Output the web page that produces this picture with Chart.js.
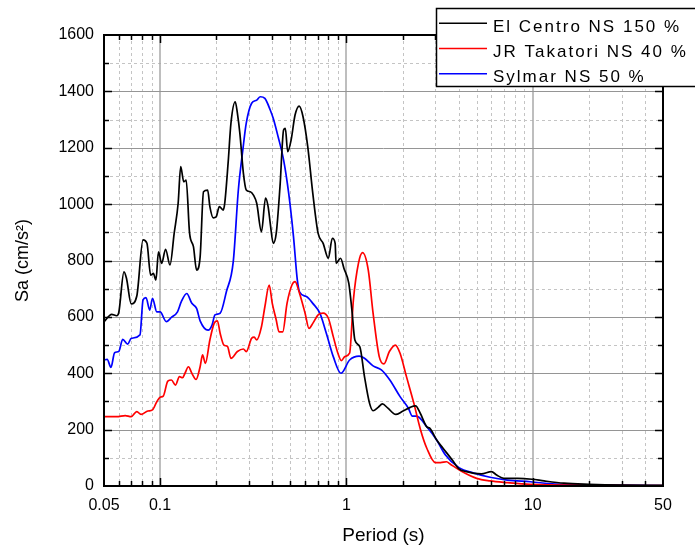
<!DOCTYPE html>
<html lang="en">
<head>
    <meta charset="UTF-8">
    <title>Acceleration Response Spectra</title>
    <style>
        html, body {
            margin: 0;
            padding: 0;
            background: #ffffff;
        }
        #wrap {
            width: 695px;
            height: 547px;
        }
    </style>
    <script src="https://cdn.jsdelivr.net/npm/chart.js"></script>
</head>
<body>
    <div id="wrap">
        <canvas id="spectrumChart" width="695" height="547"></canvas>
    </div>
    <script>
        // El Centro NS 150 % : period (s) / Sa (cm/s2)
        const elCentroT = [0.05, 0.055, 0.0585, 0.06, 0.064, 0.066, 0.07, 0.075, 0.081, 0.085, 0.089, 0.092, 0.095, 0.098,
            0.102, 0.107, 0.113, 0.119, 0.125, 0.129, 0.134, 0.138, 0.144, 0.151, 0.157, 0.164, 0.171, 0.18, 0.185, 0.193,
            0.2, 0.208, 0.218, 0.222, 0.232, 0.24, 0.253, 0.26, 0.268, 0.28, 0.29, 0.305, 0.317, 0.33, 0.35, 0.368, 0.38,
            0.39, 0.405, 0.42, 0.44, 0.46, 0.47, 0.484, 0.505, 0.53, 0.558, 0.585, 0.62, 0.66, 0.705, 0.75, 0.8, 0.84,
            0.87, 0.88, 0.93, 0.97, 1.03, 1.07, 1.11, 1.18, 1.25, 1.33, 1.39, 1.48, 1.56, 1.67, 1.84, 1.99, 2.2, 2.35,
            2.49, 2.7, 2.8, 3.05, 3.3, 3.7, 4.0, 4.4, 5.3, 6.0, 6.4, 7.0, 8.3, 9.9, 11.5, 14.7, 20, 30, 50];
        const elCentroSa = [583, 609, 604, 615, 760, 737, 646, 674, 873, 861, 748, 754, 731, 831,
            790, 840, 784, 896, 1003, 1133, 1079, 1085, 896, 849, 766, 813, 1044, 1050, 991, 951,
            955, 991, 979, 1000, 1150, 1287, 1363, 1322, 1251, 1109, 1050, 1044, 1032, 1003, 902, 1021, 991,
            932, 861, 896, 1062, 1263, 1269, 1186, 1228, 1316, 1348, 1310, 1204, 1038, 896, 861, 808, 879,
            861, 790, 808, 772, 719, 624, 518, 494, 388, 294, 267, 279, 291, 276, 254, 264, 279, 284,
            258, 210, 205, 163, 134, 92, 62, 51, 43, 51, 39, 27, 27, 24, 18, 10, 6, 3, 2];

        // JR Takatori NS 40 %
        const takatoriT = [0.05, 0.0585, 0.065, 0.07, 0.075, 0.079, 0.086, 0.091, 0.096, 0.1, 0.104, 0.11, 0.115, 0.121,
            0.127, 0.132, 0.136, 0.142, 0.148, 0.156, 0.164, 0.169, 0.175, 0.185, 0.195, 0.203, 0.21, 0.22, 0.23, 0.24,
            0.26, 0.28, 0.29, 0.31, 0.32, 0.33, 0.35, 0.365, 0.385, 0.4, 0.42, 0.435, 0.455, 0.48, 0.51, 0.53, 0.56,
            0.6, 0.63, 0.66, 0.705, 0.75, 0.8, 0.85, 0.9, 0.94, 0.98, 1.04, 1.09, 1.16, 1.22, 1.31, 1.39, 1.5, 1.59,
            1.7, 1.83, 1.94, 2.1, 2.3, 2.5, 2.7, 3.0, 3.2, 3.45, 3.6, 4.1, 5.0, 5.9, 7.3, 9.7, 20, 50];
        const takatoriSa = [246, 246, 250, 246, 264, 254, 266, 270, 299, 315, 319, 372, 376, 358,
            388, 384, 400, 423, 400, 378, 423, 465, 435, 518, 577, 586, 542, 500, 495, 453,
            477, 486, 477, 524, 528, 518, 565, 636, 713, 648, 589, 547, 547, 648, 713, 725, 684,
            613, 559, 577, 607, 613, 595, 530, 471, 445, 459, 471, 660, 790, 828, 766, 613, 459, 433,
            477, 500, 471, 388, 294, 199, 134, 83, 83, 86, 78, 54, 27, 18, 12, 6, 3, 1];

        // Sylmar NS 50 %
        const sylmarT = [0.05, 0.052, 0.0545, 0.057, 0.06, 0.063, 0.067, 0.07, 0.078, 0.081, 0.084, 0.088, 0.091, 0.096,
            0.1, 0.108, 0.115, 0.124, 0.13, 0.139, 0.148, 0.157, 0.164, 0.181, 0.19, 0.197, 0.21, 0.227, 0.247, 0.263,
            0.278, 0.29, 0.31, 0.33, 0.345, 0.365, 0.39, 0.405, 0.43, 0.46, 0.49, 0.52, 0.545, 0.56, 0.61, 0.66, 0.72,
            0.78, 0.85, 0.935, 1.04, 1.17, 1.25, 1.39, 1.54, 1.71, 1.94, 2.15, 2.26, 2.38, 2.7, 3.05, 3.4, 4.0, 4.9,
            5.9, 7.3, 9.7, 13.2, 20, 50];
        const sylmarSa = [447, 449, 421, 473, 477, 520, 503, 524, 536, 660, 668, 624, 666, 618,
            618, 583, 598, 618, 654, 683, 648, 630, 586, 553, 571, 607, 613, 690, 796, 1050,
            1192, 1287, 1358, 1369, 1381, 1375, 1334, 1304, 1239, 1157, 1038, 884, 731, 689, 672, 648, 613,
            542, 459, 400, 447, 461, 453, 426, 412, 376, 317, 276, 248, 248, 210, 163, 110, 66, 45,
            31, 21, 15, 7, 4, 1];

        // axis ticks
        const xTickLabels = [0.05, 0.1, 1, 10, 50];
        const xMajorTicks = [0.1, 1, 10];
        const xMinorTicks = [0.06, 0.07, 0.08, 0.09, 0.2, 0.3, 0.4, 0.5, 0.6, 0.7, 0.8, 0.9,
            2, 3, 4, 5, 6, 7, 8, 9, 20, 30, 40];
        const yMajorTicks = [200, 400, 600, 800, 1000, 1200, 1400];
        const yMinorTicks = [100, 300, 500, 700, 900, 1100, 1300, 1500];

        const fontFamily = "'Liberation Sans', Arial, sans-serif";

        function toPoints(periods, values) {
            return periods.map((t, i) => ({ x: t, y: values[i] }));
        }

        function strokeLine(ctx, x1, y1, x2, y2) {
            ctx.beginPath();
            ctx.moveTo(x1, y1);
            ctx.lineTo(x2, y2);
            ctx.stroke();
        }

        const frameAndGrid = {
            id: 'frameAndGrid',
            beforeDatasetsDraw(chart) {
                const { ctx, chartArea: a, scales: { x, y } } = chart;
                ctx.save();
                ctx.lineWidth = 1;

                // minor grid, dashed
                ctx.setLineDash([3, 3]);
                ctx.strokeStyle = '#c4c4c4';
                xMinorTicks.forEach(v => {
                    const px = Math.round(x.getPixelForValue(v)) + 0.5;
                    strokeLine(ctx, px, a.top, px, a.bottom);
                });
                yMinorTicks.forEach(v => {
                    const py = Math.round(y.getPixelForValue(v)) + 0.5;
                    strokeLine(ctx, a.left, py, a.right, py);
                });

                // major grid, solid
                ctx.setLineDash([]);
                ctx.strokeStyle = '#a8a8a8';
                ctx.lineWidth = 1.5;
                xMajorTicks.forEach(v => {
                    const px = Math.round(x.getPixelForValue(v));
                    strokeLine(ctx, px, a.top, px, a.bottom);
                });
                ctx.strokeStyle = '#959595';
                ctx.lineWidth = 1;
                yMajorTicks.forEach(v => {
                    const py = Math.round(y.getPixelForValue(v)) + 0.5;
                    strokeLine(ctx, a.left, py, a.right, py);
                });
                ctx.restore();
            },
            afterDatasetsDraw(chart) {
                const { ctx, chartArea: a, scales: { x, y } } = chart;
                ctx.save();
                ctx.strokeStyle = '#000';
                ctx.lineWidth = 1.5;

                // tick marks pointing inward on all four sides
                const xTicks = xMinorTicks.map(v => [v, 5]).concat(xMajorTicks.map(v => [v, 8]));
                xTicks.forEach(([v, len]) => {
                    const px = Math.round(x.getPixelForValue(v)) + 0.5;
                    strokeLine(ctx, px, a.bottom, px, a.bottom - len);
                    strokeLine(ctx, px, a.top, px, a.top + len);
                });
                const yTicks = yMinorTicks.map(v => [v, 5]).concat(yMajorTicks.map(v => [v, 8]));
                yTicks.forEach(([v, len]) => {
                    const py = Math.round(y.getPixelForValue(v)) + 0.5;
                    strokeLine(ctx, a.left, py, a.left + len, py);
                    strokeLine(ctx, a.right, py, a.right - len, py);
                });

                // frame
                ctx.lineWidth = 2;
                ctx.strokeRect(a.left, a.top, a.right - a.left, a.bottom - a.top);

                // legend box, top right, running off the edge
                const box = { left: 436.5, top: 8.5, width: 270, height: 78 };
                ctx.fillStyle = '#ffffff';
                ctx.fillRect(box.left, box.top, box.width, box.height);
                ctx.lineWidth = 1.5;
                ctx.strokeStyle = '#000';
                ctx.strokeRect(box.left, box.top, box.width, box.height);

                ctx.font = '17px ' + fontFamily;
                ctx.textBaseline = 'alphabetic';
                ctx.textAlign = 'left';
                if ('letterSpacing' in ctx) ctx.letterSpacing = '2px';
                chart.data.datasets.forEach((ds, i) => {
                    const base = 31.7 + i * 25.3;
                    ctx.strokeStyle = ds.borderColor;
                    ctx.lineWidth = 1.5;
                    strokeLine(ctx, 439, base - 8.5, 487, base - 8.5);
                    ctx.fillStyle = '#000';
                    ctx.fillText(ds.label, 493, base);
                });
                ctx.restore();
            }
        };

        const ctx = document.getElementById('spectrumChart').getContext('2d');
        new Chart(ctx, {
            type: 'line',
            data: {
                datasets: [
                    {
                        label: 'El Centro NS 150 %',
                        data: toPoints(elCentroT, elCentroSa),
                        borderColor: '#000000',
                    },
                    {
                        label: 'JR Takatori NS 40 %',
                        data: toPoints(takatoriT, takatoriSa),
                        borderColor: '#ff0000',
                    },
                    {
                        label: 'Sylmar NS 50 %',
                        data: toPoints(sylmarT, sylmarSa),
                        borderColor: '#0000ff',
                    }
                ]
            },
            options: {
                responsive: false,
                animation: false,
                layout: {
                    padding: { top: 35, right: 32, left: 0, bottom: 0 }
                },
                elements: {
                    point: { radius: 0 },
                    line: { borderWidth: 1.7, cubicInterpolationMode: 'monotone', fill: false }
                },
                plugins: {
                    legend: { display: false },
                    tooltip: { enabled: false }
                },
                scales: {
                    x: {
                        type: 'logarithmic',
                        min: 0.05,
                        max: 50,
                        grid: { display: false, drawTicks: false },
                        border: { display: false },
                        afterBuildTicks: scale => {
                            scale.ticks = xTickLabels.map(v => ({ value: v }));
                        },
                        afterFit: scale => {
                            scale.height = 61;
                        },
                        ticks: {
                            autoSkip: false,
                            maxRotation: 0,
                            padding: 10,
                            color: '#000',
                            font: { family: fontFamily, size: 16 },
                            callback: v => String(v)
                        },
                        title: {
                            display: true,
                            text: 'Period (s)',
                            color: '#000',
                            font: { family: fontFamily, size: 19 },
                            padding: { top: 4, bottom: 0 }
                        }
                    },
                    y: {
                        type: 'linear',
                        min: 0,
                        max: 1600,
                        grid: { display: false, drawTicks: false },
                        border: { display: false },
                        afterFit: scale => {
                            scale.width = 104;
                        },
                        ticks: {
                            stepSize: 200,
                            padding: 10,
                            color: '#000',
                            font: { family: fontFamily, size: 16 },
                            callback: v => String(v)
                        },
                        title: {
                            display: true,
                            text: 'Sa (cm/s²)',
                            color: '#000',
                            font: { family: fontFamily, size: 18 },
                            padding: { top: 12, bottom: 0 }
                        }
                    }
                }
            },
            plugins: [frameAndGrid]
        });
    </script>
</body>
</html>
